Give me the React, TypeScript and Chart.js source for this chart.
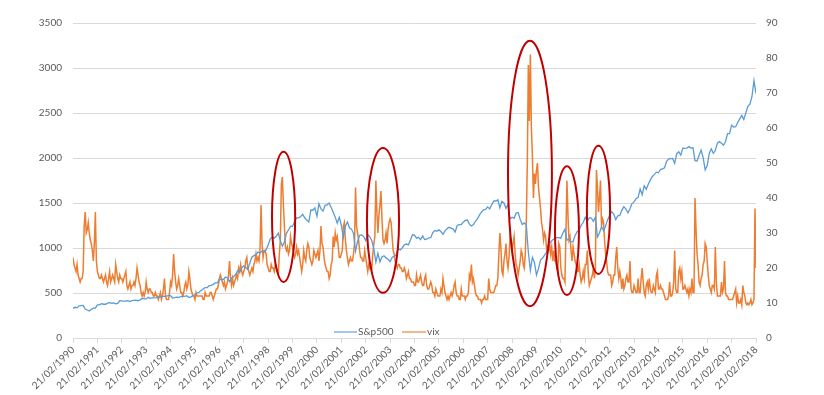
import React, { useEffect, useRef } from "react";
import { Chart, registerables } from "chart.js";

Chart.register(...registerables);

// Tick labels of the time axis (one per year, every 12 months)
const yearLabels = [
  "21/02/1990", "21/02/1991", "21/02/1992", "21/02/1993", "21/02/1994", "21/02/1995",
  "21/02/1996", "21/02/1997", "21/02/1998", "21/02/1999", "21/02/2000", "21/02/2001",
  "21/02/2002", "21/02/2003", "21/02/2004", "21/02/2005", "21/02/2006", "21/02/2007",
  "21/02/2008", "21/02/2009", "21/02/2010", "21/02/2011", "21/02/2012", "21/02/2013",
  "21/02/2014", "21/02/2015", "21/02/2016", "21/02/2017", "21/02/2018",
];

const seriesNames = ["S&p500", "vix"];

// S&P500, one value per month starting 21/02/1990 (rows: Feb..Jan)
const sp500 = [
  330, 341, 335, 358, 360, 361, 321, 311, 300, 317, 331, 331,
  367, 368, 381, 375, 375, 387, 392, 386, 390, 380, 384, 414,
  412, 409, 410, 414, 404, 415, 418, 420, 414, 424, 440, 436,
  434, 452, 440, 446, 446, 448, 458, 455, 463, 462, 466, 474,
  470, 445, 448, 454, 450, 461, 465, 463, 470, 450, 458, 470,
  483, 500, 508, 528, 544, 560, 559, 581, 584, 596, 612, 612,
  650, 650, 650, 678, 667, 627, 667, 680, 705, 750, 730, 780,
  801, 784, 760, 835, 898, 915, 926, 955, 945, 963, 955, 980,
  1034, 1099, 1122, 1110, 1130, 1165, 1081, 1020, 1065, 1163, 1200, 1240,
  1240, 1295, 1335, 1335, 1350, 1375, 1336, 1310, 1289, 1422, 1420, 1445,
  1352, 1492, 1434, 1410, 1475, 1480, 1500, 1450, 1396, 1343, 1275, 1342,
  1253, 1117, 1242, 1290, 1225, 1210, 1160, 966, 1073, 1140, 1145, 1127,
  1083, 1153, 1125, 1082, 990, 843, 940, 845, 900, 914, 890, 875,
  848, 895, 911, 924, 995, 978, 1003, 1036, 1044, 1035, 1088, 1147,
  1144, 1109, 1118, 1093, 1134, 1093, 1098, 1113, 1114, 1171, 1195, 1185,
  1201, 1183, 1152, 1191, 1213, 1230, 1220, 1210, 1178, 1250, 1260, 1261,
  1287, 1306, 1311, 1265, 1245, 1260, 1297, 1325, 1368, 1400, 1425, 1430,
  1457, 1435, 1480, 1522, 1522, 1535, 1445, 1518, 1500, 1440, 1485, 1325,
  1342, 1330, 1388, 1395, 1318, 1261, 1278, 1255, 955, 752, 895, 840,
  700, 770, 866, 888, 921, 955, 1026, 1069, 1091, 1105, 1115, 1116,
  1110, 1166, 1208, 1087, 1095, 1069, 1071, 1140, 1180, 1198, 1254, 1283,
  1340, 1298, 1337, 1333, 1295, 1343, 1123, 1166, 1238, 1192, 1243, 1315,
  1362, 1405, 1378, 1316, 1357, 1362, 1418, 1460, 1433, 1391, 1436, 1494,
  1512, 1548, 1562, 1655, 1592, 1692, 1652, 1709, 1754, 1795, 1818, 1843,
  1836, 1872, 1880, 1892, 1962, 1987, 1992, 1994, 1941, 2048, 2070, 2032,
  2110, 2108, 2110, 2126, 2110, 2114, 1971, 1966, 2030, 2089, 2005, 1868,
  1917, 2051, 2102, 2052, 2083, 2165, 2183, 2163, 2141, 2181, 2270, 2271,
  2365, 2344, 2348, 2394, 2434, 2473, 2428, 2502, 2575, 2599, 2681, 2860,
  2716,
];

// VIX, two values per month starting 21/02/1990 (rows: Feb21 .. Feb6 of next year)
const vix = [
  23, 21, 20, 19, 21, 18, 17, 16, 17, 17, 19, 32, 36, 30, 31, 33, 30, 28, 27, 25, 22, 27, 36, 22,
  19, 18, 17, 17, 18, 17, 16, 17, 18, 16, 15, 17, 19, 16, 17, 18, 17, 16, 21, 19, 17, 16, 18, 17,
  17, 16, 17, 18, 19, 15, 14, 15, 16, 14, 15, 15, 16, 15, 17, 20, 18, 16, 15, 13, 12, 13, 12, 13,
  16, 14, 13, 14, 14, 13, 13, 12, 12, 13, 12, 12, 11, 12, 13, 11, 12, 14, 17, 12, 11, 11, 11, 13,
  16, 15, 18, 24, 19, 16, 14, 15, 17, 15, 13, 13, 12, 13, 15, 16, 14, 15, 19, 17, 14, 13, 12, 12,
  11, 13, 12, 12, 12, 12, 12, 12, 11, 11, 13, 12, 12, 12, 12, 13, 13, 12, 11, 12, 13, 14, 14, 15,
  17, 18, 17, 16, 15, 16, 14, 15, 16, 18, 22, 17, 15, 17, 15, 16, 17, 18, 17, 20, 19, 21, 19, 18,
  19, 20, 22, 23, 20, 19, 18, 19, 20, 19, 21, 22, 24, 22, 23, 22, 25, 38, 27, 23, 25, 25, 24, 21,
  20, 19, 19, 21, 20, 20, 19, 21, 20, 19, 18, 24, 28, 44, 46, 38, 32, 26, 25, 26, 24, 25, 29, 27,
  26, 24, 23, 24, 26, 24, 25, 23, 21, 19, 21, 25, 23, 22, 25, 27, 26, 23, 22, 21, 22, 25, 24, 23,
  24, 25, 22, 25, 32, 27, 26, 23, 21, 20, 19, 19, 17, 18, 21, 22, 29, 26, 30, 28, 29, 26, 23, 23,
  24, 25, 32, 33, 28, 25, 23, 21, 22, 23, 22, 22, 24, 27, 43, 32, 30, 28, 25, 23, 23, 22, 22, 25,
  23, 21, 19, 21, 20, 21, 20, 24, 27, 29, 45, 36, 30, 35, 38, 42, 34, 28, 27, 28, 30, 27, 31, 33,
  34, 33, 29, 25, 24, 22, 21, 20, 21, 21, 20, 20, 19, 19, 20, 19, 17, 18, 19, 17, 17, 16, 16, 16,
  15, 15, 18, 16, 16, 17, 18, 16, 15, 15, 17, 18, 15, 14, 14, 15, 16, 15, 13, 13, 12, 14, 13, 12,
  12, 12, 14, 13, 17, 15, 13, 12, 11, 12, 11, 12, 13, 12, 13, 15, 16, 13, 12, 12, 11, 11, 14, 12,
  12, 12, 11, 12, 12, 13, 18, 17, 21, 16, 17, 15, 13, 12, 12, 11, 11, 11, 10, 11, 11, 12, 11, 11,
  11, 17, 14, 13, 13, 13, 13, 14, 15, 15, 17, 24, 30, 26, 19, 18, 22, 24, 27, 22, 20, 23, 29, 28,
  25, 27, 29, 24, 21, 20, 18, 20, 22, 25, 24, 21, 20, 24, 33, 50, 78, 62, 81, 60, 52, 40, 47, 44,
  48, 50, 43, 40, 37, 33, 31, 28, 30, 29, 25, 26, 25, 27, 24, 26, 22, 25, 22, 22, 20, 19, 27, 26,
  20, 18, 17, 17, 16, 30, 45, 35, 28, 29, 25, 22, 26, 24, 22, 21, 19, 19, 21, 18, 16, 17, 19, 17,
  21, 21, 25, 18, 15, 16, 17, 18, 20, 17, 20, 48, 43, 36, 40, 45, 32, 34, 33, 28, 24, 22, 19, 18,
  18, 18, 15, 16, 18, 18, 23, 26, 20, 17, 19, 17, 14, 17, 14, 15, 17, 18, 16, 16, 22, 14, 13, 13,
  15, 14, 13, 13, 17, 13, 13, 17, 20, 16, 13, 12, 15, 16, 14, 17, 14, 13, 13, 15, 14, 13, 18, 19,
  14, 14, 15, 14, 14, 13, 12, 11, 11, 11, 12, 16, 12, 12, 13, 16, 25, 14, 13, 13, 19, 20, 17, 19,
  14, 14, 15, 14, 13, 14, 12, 14, 13, 17, 13, 13, 40, 31, 24, 21, 16, 15, 17, 18, 21, 22, 27, 26,
  22, 18, 15, 14, 13, 15, 15, 14, 26, 16, 12, 12, 12, 12, 16, 13, 14, 22, 13, 12, 12, 11, 11, 11,
  11, 11, 12, 13, 14, 10, 12, 10, 10, 11, 9.5, 15, 13, 12, 10, 9.5, 10, 9.5, 10, 11, 9.5, 10, 11, 37,
  20,
];

// Red highlight ellipses, in data units (x: months since 21/02/1990, y: vix axis)
const highlights = [
  { x: 103.6, y: 34.6, rx: 5.7, ry: 18.6 },
  { x: 152.5, y: 33.6, rx: 7.9, ry: 20.7 },
  { x: 224.8, y: 47.0, rx: 10.8, ry: 37.9 },
  { x: 243.0, y: 30.7, rx: 5.9, ry: 18.4 },
  { x: 258.5, y: 36.6, rx: 5.7, ry: 18.3 },
];

const FONT = "Lato, 'Open Sans', sans-serif";
const TEXT = "#595959";
const GRID = "#d9d9d9";

export default function App() {
  const ref = useRef<HTMLCanvasElement>(null);

  useEffect(() => {
    const canvas = ref.current;
    if (!canvas) return;
    const blue = "#5B9BD5";
    const orange = "#ED7D31";

    const ellipsePlugin = {
      id: "highlightEllipses",
      afterDatasetsDraw(chart: any) {
        const { ctx } = chart;
        const xs = chart.scales.x;
        const ys = chart.scales.y1;
        ctx.save();
        ctx.strokeStyle = "#C00000";
        ctx.lineWidth = 2;
        for (const h of highlights) {
          const cx = xs.getPixelForValue(h.x);
          const cy = ys.getPixelForValue(h.y);
          const rx = Math.abs(xs.getPixelForValue(h.x + h.rx) - cx);
          const ry = Math.abs(ys.getPixelForValue(h.y + h.ry) - cy);
          ctx.beginPath();
          ctx.ellipse(cx, cy, rx, ry, 0, 0, Math.PI * 2);
          ctx.stroke();
        }
        ctx.restore();
      },
    };

    const legendPlugin = {
      id: "innerLegend",
      afterDraw(chart: any) {
        const { ctx, chartArea } = chart;
        const y = chartArea.bottom - 6;
        const items = [
          { x0: chartArea.left + 261, x1: chartArea.left + 284 },
          { x0: chartArea.left + 329, x1: chartArea.left + 353 },
        ];
        ctx.save();
        ctx.font = `10px ${FONT}`;
        ctx.textBaseline = "middle";
        ctx.textAlign = "left";
        chart.data.datasets.forEach((ds: any, i: number) => {
          const it = items[i];
          ctx.strokeStyle = ds.borderColor;
          ctx.globalAlpha = 0.75;
          ctx.lineWidth = 1.5;
          ctx.beginPath();
          ctx.moveTo(it.x0, y);
          ctx.lineTo(it.x1, y);
          ctx.stroke();
          ctx.globalAlpha = 1;
          ctx.fillStyle = TEXT;
          ctx.fillText(ds.label, it.x1 + 1, y);
        });
        ctx.restore();
      },
    };

    const chart = new Chart(canvas, {
      type: "line",
      data: {
        datasets: [
          {
            label: seriesNames[0],
            data: sp500.map((v, i) => ({ x: i, y: v })),
            borderColor: blue,
            backgroundColor: blue,
            borderWidth: 1.3,
            pointRadius: 0,
            yAxisID: "y",
            order: 1,
          },
          {
            label: seriesNames[1],
            data: vix.map((v, i) => ({ x: i / 2, y: v })),
            borderColor: orange,
            backgroundColor: orange,
            borderWidth: 1.5,
            pointRadius: 0,
            yAxisID: "y1",
            order: 2,
          },
        ],
      },
      options: {
        responsive: false,
        animation: false,
        events: [],
        layout: { padding: { top: 23, left: 0, right: 0, bottom: 0 } },
        plugins: {
          legend: { display: false },
          tooltip: { enabled: false },
        },
        scales: {
          x: {
            type: "linear",
            min: 0,
            max: 336,
            afterFit: (s: any) => { s.height = 57; },
            grid: {
              drawOnChartArea: false,
              drawTicks: true,
              tickLength: 5,
              color: GRID,
            },
            border: { display: true, color: GRID },
            ticks: {
              stepSize: 12,
              autoSkip: false,
              maxRotation: 45,
              minRotation: 45,
              padding: 1,
              color: TEXT,
              font: { family: FONT, size: 10 },
              callback: (v: any) => yearLabels[Math.round(Number(v) / 12)] ?? "",
            },
          },
          y: {
            position: "left",
            min: 0,
            max: 3500,
            afterFit: (s: any) => { s.width = 73; },
            grid: { color: GRID, drawTicks: false, lineWidth: 1 },
            border: { display: false },
            ticks: {
              stepSize: 500,
              padding: 11,
              color: TEXT,
              font: { family: FONT, size: 10 },
              callback: (v: any) => String(v),
            },
          },
          y1: {
            position: "right",
            min: 0,
            max: 90,
            afterFit: (s: any) => { s.width = 68; },
            grid: { drawOnChartArea: false, drawTicks: false },
            border: { display: false },
            ticks: {
              stepSize: 10,
              padding: 10,
              color: TEXT,
              font: { family: FONT, size: 10 },
              callback: (v: any) => String(v),
            },
          },
        },
      },
      plugins: [ellipsePlugin, legendPlugin],
    });

    return () => chart.destroy();
  }, []);

  return (
    <div style={{ position: "absolute", left: 0, top: 0, width: 824, height: 395, background: "#fff" }}>
      <canvas ref={ref} width={824} height={395} style={{ display: "block" }} />
    </div>
  );
}
